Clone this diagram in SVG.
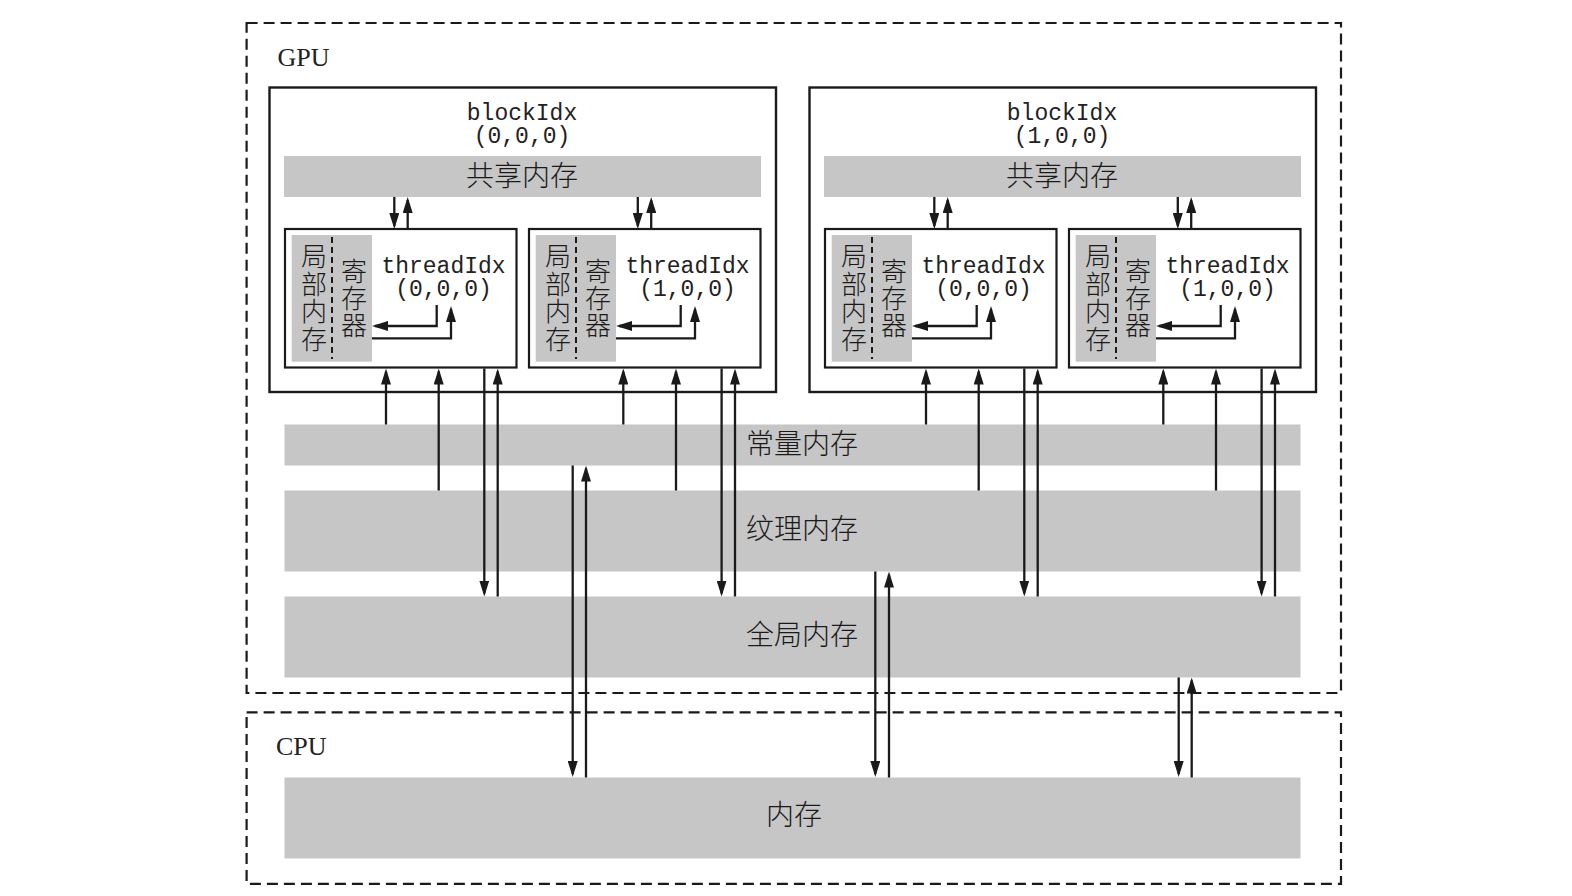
<svg xmlns="http://www.w3.org/2000/svg" width="1572" height="896" viewBox="0 0 1572 896">
<style>
.dash{fill:none;stroke:#1a1a1a;stroke-width:2.2;stroke-dasharray:11 6}
.blk{fill:#fff;stroke:#1a1a1a;stroke-width:2.4}
.thr{fill:#fff;stroke:#1a1a1a;stroke-width:2.2}
.bar{fill:#c6c6c6}
.div{stroke:#1a1a1a;stroke-width:2;stroke-dasharray:6 4}
.cn{font-family:"Noto Sans CJK SC","Noto Sans CJK JP",sans-serif;font-weight:300;fill:#1a1a1a;text-anchor:middle}
.big{font-size:28px}
.sm{font-size:26px}
.mono{font-family:"Liberation Mono","Courier New",monospace;font-size:23px;fill:#222;text-anchor:middle}
.ser{font-family:"Liberation Serif","Times New Roman",serif;font-size:26px;fill:#222}
.ln{fill:none;stroke:#1a1a1a;stroke-width:2.3;marker-end:url(#ah)}
</style>
<defs>
<marker id="ah" viewBox="0 0 16 10" refX="13" refY="5" markerWidth="16" markerHeight="10" markerUnits="userSpaceOnUse" orient="auto">
<path d="M0,0 L16,5 L0,10 z" fill="#1a1a1a"/>
</marker>
<g id="thread">
<rect class="thr" x="285" y="229" width="231.5" height="138.5"/>
<rect class="bar" x="291.7" y="235" width="80.3" height="126.7"/>
<line class="div" x1="332" y1="237" x2="332" y2="359"/>
<text class="cn sm"><tspan x="314" y="266">局</tspan><tspan x="314" y="293.5">部</tspan><tspan x="314" y="321">内</tspan><tspan x="314" y="348.5">存</tspan></text>
<text class="cn sm"><tspan x="354" y="281">寄</tspan><tspan x="354" y="308">存</tspan><tspan x="354" y="335">器</tspan></text>
</g>
</defs>

<g id="gpu">
<rect class="dash" x="246.6" y="23" width="1094.4" height="670"/>
<text class="ser" x="277.5" y="66">GPU</text>
</g>
<g id="cpu">
<rect class="dash" x="246.6" y="712.3" width="1094.4" height="171.5"/>
<text class="ser" x="276" y="755">CPU</text>
</g>

<g id="block0">
<rect class="blk" x="269.5" y="87.5" width="506.5" height="304.5"/>
<text class="mono" x="522" y="120">blockIdx</text>
<text class="mono" x="522" y="143">(0,0,0)</text>
<rect class="bar" x="284" y="156" width="477" height="41"/>
<text class="cn big" x="522" y="186">共享内存</text>
<g id="b0t0">
<use href="#thread"/>
<text class="mono" x="443.5" y="273">threadIdx</text>
<text class="mono" x="443.5" y="296">(0,0,0)</text>
</g>
<g id="b0t1" transform="translate(244,0)">
<use href="#thread"/>
<text class="mono" x="443.5" y="273">threadIdx</text>
<text class="mono" x="443.5" y="296">(1,0,0)</text>
</g>
</g>

<g id="block1" transform="translate(540,0)">
<rect class="blk" x="269.5" y="87.5" width="506.5" height="304.5"/>
<text class="mono" x="522" y="120">blockIdx</text>
<text class="mono" x="522" y="143">(1,0,0)</text>
<rect class="bar" x="284" y="156" width="477" height="41"/>
<text class="cn big" x="522" y="186">共享内存</text>
<g id="b1t0">
<use href="#thread"/>
<text class="mono" x="443.5" y="273">threadIdx</text>
<text class="mono" x="443.5" y="296">(0,0,0)</text>
</g>
<g id="b1t1" transform="translate(244,0)">
<use href="#thread"/>
<text class="mono" x="443.5" y="273">threadIdx</text>
<text class="mono" x="443.5" y="296">(1,0,0)</text>
</g>
</g>

<g id="constant">
<rect class="bar" x="284.5" y="424.5" width="1016" height="41"/>
<text class="cn big" x="802" y="454">常量内存</text>
</g>
<g id="texture">
<rect class="bar" x="284.5" y="490.5" width="1016" height="81"/>
<text class="cn big" x="802" y="539">纹理内存</text>
</g>
<g id="global">
<rect class="bar" x="284.5" y="596.5" width="1016" height="81"/>
<text class="cn big" x="802" y="645">全局内存</text>
</g>
<g id="hostmem">
<rect class="bar" x="284.5" y="777.5" width="1016" height="81"/>
<text class="cn big" x="794" y="825">内存</text>
</g>

<g id="connectors">
<g id="conn-b0">
<g id="conn-b0t0">
<line class="ln" x1="394.3" y1="197" x2="394.3" y2="226"/>
<line class="ln" x1="407.7" y1="229" x2="407.7" y2="200"/>
<path class="ln" d="M436.7,305 V326 H375"/>
<path class="ln" d="M372,338.3 H451 V309"/>
<line class="ln" x1="386" y1="424.5" x2="386" y2="371.5"/>
<line class="ln" x1="438.7" y1="490.5" x2="438.7" y2="371.5"/>
<line class="ln" x1="484.3" y1="368.5" x2="484.3" y2="593.5"/>
<line class="ln" x1="497.7" y1="596.5" x2="497.7" y2="371.5"/>
</g>
<g id="conn-b0t1">
<line class="ln" x1="637.8" y1="197" x2="637.8" y2="226"/>
<line class="ln" x1="651.2" y1="229" x2="651.2" y2="200"/>
<path class="ln" d="M680.7,305 V326 H619"/>
<path class="ln" d="M616,338.3 H695 V309"/>
<line class="ln" x1="623.3" y1="424.5" x2="623.3" y2="371.5"/>
<line class="ln" x1="676" y1="490.5" x2="676" y2="371.5"/>
<line class="ln" x1="721.6" y1="368.5" x2="721.6" y2="593.5"/>
<line class="ln" x1="735" y1="596.5" x2="735" y2="371.5"/>
</g>
</g>
<g id="conn-b1" transform="translate(540,0)">
<line class="ln" x1="394.3" y1="197" x2="394.3" y2="226"/>
<line class="ln" x1="407.7" y1="229" x2="407.7" y2="200"/>
<path class="ln" d="M436.7,305 V326 H375"/>
<path class="ln" d="M372,338.3 H451 V309"/>
<line class="ln" x1="386" y1="424.5" x2="386" y2="371.5"/>
<line class="ln" x1="438.7" y1="490.5" x2="438.7" y2="371.5"/>
<line class="ln" x1="484.3" y1="368.5" x2="484.3" y2="593.5"/>
<line class="ln" x1="497.7" y1="596.5" x2="497.7" y2="371.5"/>
<line class="ln" x1="637.8" y1="197" x2="637.8" y2="226"/>
<line class="ln" x1="651.2" y1="229" x2="651.2" y2="200"/>
<path class="ln" d="M680.7,305 V326 H619"/>
<path class="ln" d="M616,338.3 H695 V309"/>
<line class="ln" x1="623.3" y1="424.5" x2="623.3" y2="371.5"/>
<line class="ln" x1="676" y1="490.5" x2="676" y2="371.5"/>
<line class="ln" x1="721.6" y1="368.5" x2="721.6" y2="593.5"/>
<line class="ln" x1="735" y1="596.5" x2="735" y2="371.5"/>
</g>
<g id="conn-host">
<line class="ln" x1="572.7" y1="465.5" x2="572.7" y2="774"/>
<line class="ln" x1="586" y1="777.5" x2="586" y2="468.5"/>
<line class="ln" x1="875.3" y1="571.5" x2="875.3" y2="774"/>
<line class="ln" x1="889" y1="777.5" x2="889" y2="574.5"/>
<line class="ln" x1="1178.7" y1="677.5" x2="1178.7" y2="774"/>
<line class="ln" x1="1191.7" y1="777.5" x2="1191.7" y2="680.5"/>
</g>
</g>
</svg>
